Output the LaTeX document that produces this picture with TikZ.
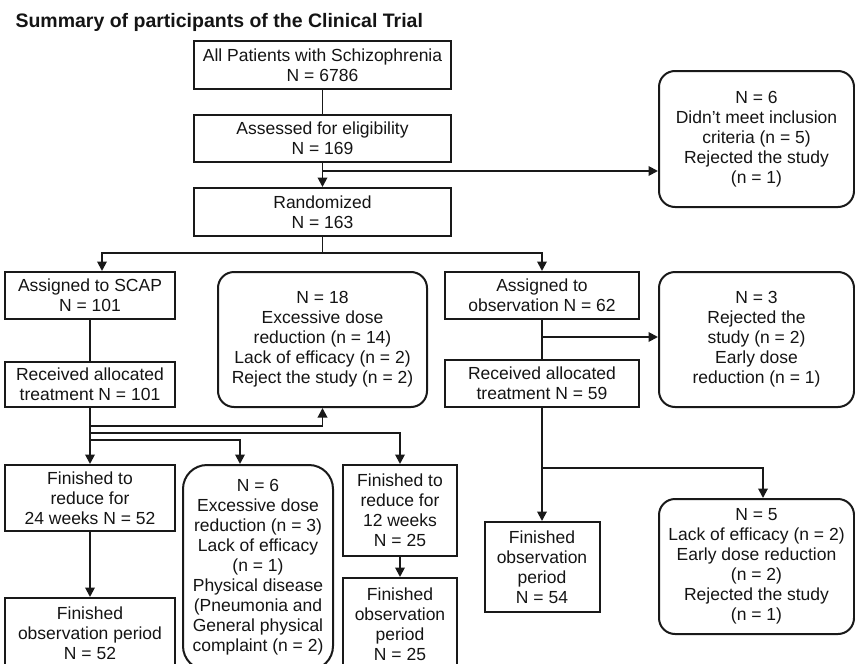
\documentclass[tikz,border=0pt]{standalone}
\usepackage{fontspec}
\setmainfont{Liberation Sans}
\usetikzlibrary{arrows.meta, positioning, calc}
\definecolor{ctline}{RGB}{25, 25, 25}
\definecolor{cttext}{RGB}{20, 20, 20}
\newcommand{\ctbody}{\fontsize{17.5}{20}\selectfont}
\newcommand{\cttitle}{\fontsize{19.5}{22}\selectfont\bfseries}

\begin{document}
\begin{tikzpicture}[x=1pt, y=-1pt,
    arrow/.style={-{Triangle[length=9.5pt, width=9.5pt]}, line width=1.9pt, draw=ctline},
    line/.style={line width=1.9pt, draw=ctline},
    stepbox/.style={rectangle, draw=ctline, line width=2pt, inner sep=2pt,
        align=center, font=\ctbody, text=cttext},
    dropbox/.style={stepbox, rounded corners=16pt},
    titlelabel/.style={font=\cttitle, text=cttext, anchor=base west}
]

% === Frame ===
\path[use as bounding box, clip] (0,0) rectangle (855,664);

% === Title ===
\node[titlelabel] (title) at (12,27) {Summary of participants of the Clinical Trial};

% === Enrolment ===
\node[stepbox, minimum width=257pt, minimum height=48pt] (all) at (322.5,65)
    {All Patients with Schizophrenia\\N = 6786};
\node[stepbox, minimum width=257pt, minimum height=47pt] (assess) at (322.5,138.5)
    {Assessed for eligibility\\N = 169};
\node[stepbox, minimum width=257pt, minimum height=48pt] (rand) at (322.5,212)
    {Randomized\\N = 163};
\node[dropbox, minimum width=195pt, minimum height=136pt] (excl) at (756.5,139)
    {N = 6\\Didn’t meet inclusion\\criteria (n = 5)\\Rejected the study\\(n = 1)};

% === SCAP arm ===
\node[stepbox, minimum width=170pt, minimum height=47pt] (scap) at (90,295.5)
    {Assigned to SCAP\\N = 101};
\node[stepbox, minimum width=170pt, minimum height=45pt] (recv1) at (90,384.5)
    {Received allocated\\treatment N = 101};
\node[dropbox, minimum width=209pt, minimum height=135pt] (drop1) at (322.5,339.5)
    {N = 18\\Excessive dose\\reduction (n = 14)\\Lack of efficacy (n = 2)\\Reject the study (n = 2)};
\node[stepbox, minimum width=170pt, minimum height=66pt] (fin24) at (90,498)
    {Finished to\\reduce for\\24 weeks N = 52};
\node[dropbox, rounded corners=24pt, minimum width=150pt, minimum height=205pt] (drop3) at (258,567.5)
    {N = 6\\Excessive dose\\reduction (n = 3)\\Lack of efficacy\\(n = 1)\\Physical disease\\(Pneumonia and\\General physical\\complaint (n = 2)};
\node[stepbox, minimum width=114pt, minimum height=91pt] (fin12) at (400,510.5)
    {Finished to\\reduce for\\12 weeks\\N = 25};
\node[stepbox, minimum width=170pt, minimum height=70pt] (finobs52) at (90,633)
    {Finished\\observation period\\N = 52};
\node[stepbox, minimum width=114pt, minimum height=92pt] (finobs25) at (400,624)
    {Finished\\observation\\period\\N = 25};

% === Observation arm ===
\node[stepbox, minimum width=194pt, minimum height=47pt] (obs) at (542,295.5)
    {Assigned to\\observation N = 62};
\node[stepbox, minimum width=194pt, minimum height=47pt] (recv2) at (542,383.5)
    {Received allocated\\treatment N = 59};
\node[dropbox, minimum width=195pt, minimum height=135pt] (drop2) at (756.5,339.5)
    {N = 3\\Rejected the\\study (n = 2)\\Early dose\\reduction (n = 1)};
\node[stepbox, minimum width=115pt, minimum height=90pt] (finobs54) at (542,567)
    {Finished\\observation\\period\\N = 54};
\node[dropbox, minimum width=195pt, minimum height=135pt] (drop4) at (756.5,566.5)
    {N = 5\\Lack of efficacy (n = 2)\\Early dose reduction\\(n = 2)\\Rejected the study\\(n = 1)};

% === Enrolment connectors ===
\draw[line] (all) -- (assess);
\draw[arrow] (assess) -- (rand);
\coordinate (exclsplit) at (322.5,171);
\draw[arrow] (exclsplit) -- (exclsplit -| excl.west);

% === Allocation ===
\coordinate (randsplit) at (322.5,253);
\draw[line] (rand) -- (randsplit);
\draw[arrow] (randsplit) -| ([xshift=12pt]scap.north);
\draw[arrow] (randsplit) -| (obs.north);

% === SCAP arm connectors ===
\draw[line] (scap) -- (recv1);
\draw[arrow] (recv1) -- (fin24);
\coordinate (armA) at (90,426);
\coordinate (armB) at (90,433);
\coordinate (armC) at (90,440);
\draw[arrow] (armA) -| (drop1.south);
\draw[arrow] (armB) -| (fin12.north);
\draw[arrow] (armC) -| ([xshift=-18pt]drop3.north);
\draw[arrow] (fin24) -- (finobs52);
\draw[arrow] (fin12) -- (finobs25);

% === Observation arm connectors ===
\draw[line] (obs) -- (recv2);
\coordinate (obssplit) at (542,337);
\draw[arrow] (obssplit) -- (obssplit -| drop2.west);
\draw[arrow] (recv2.south) -- (recv2.south |- finobs54.north);
\coordinate (armD) at (542,468);
\draw[arrow] (armD) -| ([xshift=6.5pt]drop4.north);

\end{tikzpicture}
\end{document}
